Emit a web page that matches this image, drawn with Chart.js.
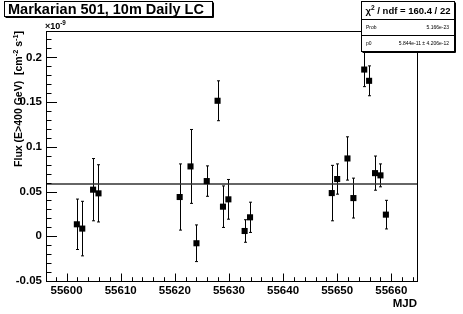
<!DOCTYPE html>
<html>
<head>
<meta charset="utf-8">
<script src="https://cdn.jsdelivr.net/npm/chart.js@4.4.1/dist/chart.umd.min.js"></script>
<style>
  body { margin: 0; background: #fff; }
  #wrap { width: 463px; height: 314px; }
</style>
</head>
<body>
<div id="wrap"><canvas id="lc" width="463" height="314"></canvas></div>
<script>
// daily light curve, flux in units of 1e-9 cm^-2 s^-1
const mjd = [55601.9, 55602.9, 55604.9, 55605.9, 55620.9, 55622.9, 55624.0, 55625.9,
             55627.9, 55628.9, 55629.9, 55632.9, 55633.9, 55649.0, 55650.0, 55651.9,
             55653.0, 55655.0, 55655.9, 55657.0, 55658.0, 55659.0];
const flux = [0.0134, 0.0086, 0.0521, 0.048, 0.0439, 0.0781, -0.0078, 0.0617,
              0.1515, 0.0331, 0.0413, 0.0059, 0.0212, 0.0483, 0.064, 0.087,
              0.0427, 0.1864, 0.1738, 0.0706, 0.0681, 0.0242];
const fluxErr = [0.0282, 0.0305, 0.0348, 0.032, 0.037, 0.0413, 0.0205, 0.017,
                 0.0223, 0.0232, 0.0222, 0.0126, 0.0169, 0.031, 0.0169, 0.0242,
                 0.0223, 0.0191, 0.0167, 0.0191, 0.0128, 0.016];
const fitP0 = 0.05844;  // constant fit, p0 = 5.844e-11

const xMin = 55596.2, xMax = 55664.75;
const yMin = -0.05, yMax = 0.2295;

const FONT = "'Liberation Sans', Arial, Helvetica, sans-serif";

// draw text made of normal and superscript pieces
function richWidth(ctx, pieces, size) {
  let w = 0;
  pieces.forEach(p => {
    ctx.font = 'bold ' + (p.sup ? size * 0.7 : size) + 'px ' + FONT;
    w += ctx.measureText(p.t).width;
  });
  return w;
}
function drawRich(ctx, pieces, x, y, size) {
  pieces.forEach(p => {
    const s = p.sup ? size * 0.7 : size;
    ctx.font = 'bold ' + s + 'px ' + FONT;
    ctx.fillText(p.t, x, p.sup ? y - size * 0.42 : y);
    x += ctx.measureText(p.t).width;
  });
}

const rootStyle = {
  id: 'rootStyle',
  beforeDatasetsDraw(chart) {
    // error bars
    const ctx = chart.ctx, xs = chart.scales.x, ys = chart.scales.y;
    const a = chart.chartArea;
    ctx.save();
    ctx.beginPath();
    ctx.rect(a.left, a.top, a.right - a.left, a.bottom - a.top);
    ctx.clip();
    ctx.strokeStyle = '#000';
    ctx.lineWidth = 1;
    for (let i = 0; i < mjd.length; i++) {
      const px = Math.round(xs.getPixelForValue(mjd[i])) + 0.5;
      const y1 = ys.getPixelForValue(flux[i] + fluxErr[i]);
      const y2 = ys.getPixelForValue(flux[i] - fluxErr[i]);
      ctx.beginPath();
      ctx.moveTo(px, y1); ctx.lineTo(px, y2);
      ctx.moveTo(px - 1.5, y1); ctx.lineTo(px + 1.5, y1);
      ctx.moveTo(px - 1.5, y2); ctx.lineTo(px + 1.5, y2);
      ctx.stroke();
    }
    ctx.restore();
  },
  afterDraw(chart) {
    const ctx = chart.ctx, xs = chart.scales.x, ys = chart.scales.y;
    const a = chart.chartArea;
    ctx.save();
    ctx.strokeStyle = '#000';
    ctx.fillStyle = '#000';
    ctx.lineWidth = 1;

    // frame
    ctx.strokeRect(a.left + 0.5, a.top + 0.5, a.right - a.left, a.bottom - a.top);

    // ticks inside the frame
    ctx.beginPath();
    const xStep = 10, yStep = 0.05;
    for (let v = Math.ceil(xMin / (xStep / 5)) * (xStep / 5); v <= xMax; v += xStep / 5) {
      const px = Math.round(xs.getPixelForValue(v)) + 0.5;
      const major = Math.abs(v / xStep - Math.round(v / xStep)) < 1e-6;
      ctx.moveTo(px, a.bottom);
      ctx.lineTo(px, a.bottom - (major ? 7.5 : 3.8));
    }
    for (let v = Math.ceil(yMin / (yStep / 5) - 1e-6) * (yStep / 5); v <= yMax; v += yStep / 5) {
      const py = Math.round(ys.getPixelForValue(v)) + 0.5;
      const major = Math.abs(v / yStep - Math.round(v / yStep)) < 1e-6;
      ctx.moveTo(a.left, py);
      ctx.lineTo(a.left + (major ? 11 : 5.5), py);
    }
    ctx.stroke();

    // axis titles
    ctx.textBaseline = 'alphabetic';
    ctx.font = 'bold 11.5px ' + FONT;
    ctx.textAlign = 'right';
    ctx.fillText('MJD', a.right, 307);
    ctx.textAlign = 'left';

    const yTitle = [
      { t: 'Flux (E>400 GeV)  [cm' }, { t: '-2', sup: true },
      { t: ' s' }, { t: '-1', sup: true }, { t: ']' }
    ];
    const tw = richWidth(ctx, yTitle, 10.5);
    ctx.save();
    ctx.translate(22, a.top);
    ctx.rotate(-Math.PI / 2);
    drawRich(ctx, yTitle, -tw, 0, 10.5);
    ctx.restore();

    drawRich(ctx, [{ t: '\u00d710' }, { t: '-9', sup: true }], a.left - 1, 29, 9);

    // title box
    ctx.fillStyle = '#fff';
    ctx.fillRect(4, 1, 208, 15);
    ctx.strokeRect(4.5, 1.5, 208, 15);
    ctx.beginPath();
    ctx.moveTo(213.5, 2.5); ctx.lineTo(213.5, 17.5); ctx.lineTo(5.5, 17.5);
    ctx.stroke();
    ctx.fillStyle = '#000';
    ctx.font = 'bold 14.5px ' + FONT;
    ctx.fillText('Markarian 501, 10m Daily LC', 8, 13.5);

    // fit statistics box
    const bx = 361, by = 1, bw = 93, bh = 50;
    ctx.fillStyle = '#fff';
    ctx.fillRect(bx, by, bw, bh);
    ctx.strokeRect(bx + 0.5, by + 0.5, bw, bh);
    ctx.beginPath();
    ctx.moveTo(bx + bw + 1.5, by + 1.5); ctx.lineTo(bx + bw + 1.5, by + bh + 1.5); ctx.lineTo(bx + 1.5, by + bh + 1.5);
    ctx.moveTo(bx, 19.5); ctx.lineTo(bx + bw, 19.5);
    ctx.moveTo(bx, 35.5); ctx.lineTo(bx + bw, 35.5);
    ctx.stroke();
    ctx.fillStyle = '#000';
    const head = [{ t: '\u03c7' }, { t: '2', sup: true }, { t: ' / ndf = 160.4 / 22' }];
    const hw = richWidth(ctx, head, 9.5);
    drawRich(ctx, head, bx + (bw - hw) / 2 + 0.5, 14, 9.5);
    ctx.font = '5px ' + FONT;
    ctx.fillText('Prob', 366, 29);
    ctx.fillText('p0', 366, 45);
    ctx.textAlign = 'right';
    ctx.fillText('5.166e-23', 449, 29);
    ctx.fillText('5.844e-11 \u00b1 4.206e-12', 449, 45);
    ctx.restore();
  }
};

const tickFont = { family: FONT, size: 11.5, weight: 'bold' };

new Chart(document.getElementById('lc'), {
  type: 'scatter',
  data: {
    datasets: [
      {
        label: 'flux',
        data: mjd.map((d, i) => ({ x: d, y: flux[i] })),
        pointStyle: 'rect',
        pointRadius: 4.3,
        borderWidth: 0,
        backgroundColor: '#000'
      },
      {
        label: 'fit',
        data: [{ x: xMin, y: fitP0 }, { x: xMax, y: fitP0 }],
        showLine: true,
        pointRadius: 0,
        borderColor: '#333',
        borderWidth: 1.3
      }
    ]
  },
  options: {
    responsive: false,
    animation: false,
    devicePixelRatio: 1,
    layout: { padding: { left: 0, right: 46, top: 31, bottom: 0 } },
    plugins: { legend: { display: false }, tooltip: { enabled: false }, title: { display: false } },
    scales: {
      x: {
        type: 'linear', min: xMin, max: xMax,
        grid: { display: false, drawTicks: false }, border: { display: false },
        ticks: { stepSize: 10, includeBounds: false, autoSkip: false, maxRotation: 0,
                 padding: 3, color: '#000', font: tickFont, callback: v => String(v) },
        afterFit: s => { s.height = 33; }
      },
      y: {
        type: 'linear', min: yMin, max: yMax,
        grid: { display: false, drawTicks: false }, border: { display: false },
        ticks: { stepSize: 0.05, includeBounds: false, padding: 4, color: '#000',
                 font: tickFont, callback: v => String(+v.toFixed(2)) },
        afterFit: s => { s.width = 46; }
      }
    }
  },
  plugins: [rootStyle]
});
</script>
</body>
</html>
